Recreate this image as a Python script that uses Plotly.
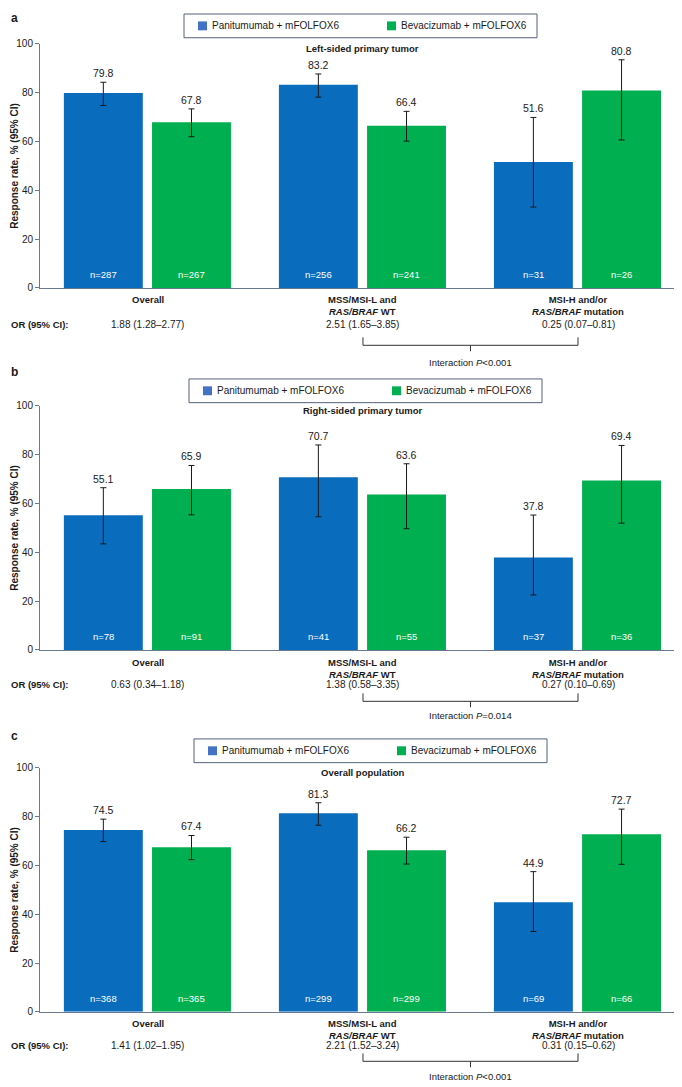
import plotly.graph_objects as go

W, H = 682, 1087
FONT = "Liberation Sans, Arial, sans-serif"

# ---------------- data ----------------
category_labels = [
    "<b>Overall</b>",
    "<b>MSS/MSI-L and</b><br><b><i>RAS/BRAF</i> WT</b>",
    "<b>MSI-H and/or</b><br><b><i>RAS/BRAF</i> mutation</b>",
]
series_names = ["Panitumumab + mFOLFOX6", "Bevacizumab + mFOLFOX6"]
panel_letters = ["a", "b", "c"]
panel_titles = ["Left-sided primary tumor", "Right-sided primary tumor", "Overall population"]

# Panel a: left-sided
a_pan = [79.8, 83.2, 51.6]
a_pan_lo = [74.7, 78.1, 33.1]
a_pan_hi = [84.2, 87.6, 69.8]
a_pan_n = [287, 256, 31]
a_bev = [67.8, 66.4, 80.8]
a_bev_lo = [61.9, 60.1, 60.6]
a_bev_hi = [73.3, 72.3, 93.4]
a_bev_n = [267, 241, 26]
a_or = ["1.88 (1.28–2.77)", "2.51 (1.65–3.85)", "0.25 (0.07–0.81)"]
a_p = "<i>P</i>&lt;0.001"

# Panel b: right-sided
b_pan = [55.1, 70.7, 37.8]
b_pan_lo = [43.4, 54.5, 22.5]
b_pan_hi = [66.4, 83.9, 55.2]
b_pan_n = [78, 41, 37]
b_bev = [65.9, 63.6, 69.4]
b_bev_lo = [55.3, 49.6, 51.9]
b_bev_hi = [75.5, 76.2, 83.7]
b_bev_n = [91, 55, 36]
b_or = ["0.63 (0.34–1.18)", "1.38 (0.58–3.35)", "0.27 (0.10–0.69)"]
b_p = "<i>P</i>=0.014"

# Panel c: overall population
c_pan = [74.5, 81.3, 44.9]
c_pan_lo = [69.7, 76.4, 32.9]
c_pan_hi = [78.9, 85.6, 57.4]
c_pan_n = [368, 299, 69]
c_bev = [67.4, 66.2, 72.7]
c_bev_lo = [62.3, 60.5, 60.4]
c_bev_hi = [72.2, 71.5, 83.0]
c_bev_n = [365, 299, 66]
c_or = ["1.41 (1.02–1.95)", "2.21 (1.52–3.24)", "0.31 (0.15–0.62)"]
c_p = "<i>P</i>&lt;0.001"

y_ticks = [0, 20, 40, 60, 80, 100]

panels = [
    dict(pan=a_pan, pan_lo=a_pan_lo, pan_hi=a_pan_hi, pan_n=a_pan_n,
         bev=a_bev, bev_lo=a_bev_lo, bev_hi=a_bev_hi, bev_n=a_bev_n, orv=a_or, p=a_p),
    dict(pan=b_pan, pan_lo=b_pan_lo, pan_hi=b_pan_hi, pan_n=b_pan_n,
         bev=b_bev, bev_lo=b_bev_lo, bev_hi=b_bev_hi, bev_n=b_bev_n, orv=b_or, p=b_p),
    dict(pan=c_pan, pan_lo=c_pan_lo, pan_hi=c_pan_hi, pan_n=c_pan_n,
         bev=c_bev, bev_lo=c_bev_lo, bev_hi=c_bev_hi, bev_n=c_bev_n, orv=c_or, p=c_p),
]

# ---------------- layout geometry (page pixels) ----------------
geo = [
    dict(top=38, zero=285, leg_top=8, leg_left=184, sub_y=43, letter_y=12,
         line1=10, orr=37, br_top=50, br_h=58, br_tick=64, ptxt=75),
    dict(top=404, zero=651, leg_top=377, leg_left=189, sub_y=409, letter_y=370,
         line1=11, orr=35, br_top=44, br_h=52, br_tick=58, ptxt=66),
    dict(top=770, zero=1017, leg_top=741, leg_left=194, sub_y=775, letter_y=738,
         line1=10, orr=34, br_top=42, br_h=50, br_tick=56, ptxt=65),
]
X_LEFT, X_RIGHT = 40, 678
X_RANGE = [-0.502, 2.465]
BAR_W = 0.367
OFF_PAN = -0.391
OFF_BEV = 0.019

BLUE = "#0a6cbd"
GREEN = "#00b050"
LEG_BLUE = "#4472c4"
AXIS_COL = "#6a7890"
TXT = "#1a1a1a"
ERR = "#1a1a1a"

PAGE_OFF = 8  # the page body margin in front of the figure


def px(x):
    return (x - PAGE_OFF) / W


def py(y):
    return 1 - (y - PAGE_OFF) / H


fig = go.Figure()
annotations = []
shapes = []
xs = list(range(len(category_labels)))

for i, (d, g) in enumerate(zip(panels, geo)):
    sfx = "" if i == 0 else str(i + 1)
    xa, ya = "x" + sfx, "y" + sfx
    for vals, lo, hi, ns, col, off, name in [
        (d["pan"], d["pan_lo"], d["pan_hi"], d["pan_n"], BLUE, OFF_PAN, series_names[0]),
        (d["bev"], d["bev_lo"], d["bev_hi"], d["bev_n"], GREEN, OFF_BEV, series_names[1]),
    ]:
        fig.add_trace(go.Bar(
            x=xs, y=vals, width=BAR_W, offset=off, marker=dict(color=col, line=dict(width=0)),
            name=name, showlegend=False, xaxis=xa, yaxis=ya,
            error_y=dict(type="data", symmetric=False,
                         array=[h - v for h, v in zip(hi, vals)],
                         arrayminus=[v - l for v, l in zip(vals, lo)],
                         color=ERR, thickness=1, width=3),
            hoverinfo="skip",
        ))
        for k in xs:
            cx = k + off + BAR_W / 2
            annotations.append(dict(x=cx, y=hi[k], xref=xa, yref=ya, text=f"{vals[k]:.1f}",
                                    showarrow=False, yanchor="bottom", yshift=1,
                                    font=dict(size=10.5, color=TXT, family=FONT)))
            annotations.append(dict(x=cx, y=0, xref=xa, yref=ya, text=f"n={ns[k]}",
                                    showarrow=False, yanchor="middle", yshift=13,
                                    font=dict(size=9.5, color="white", family=FONT)))

    ydom = [py(g["zero"]), py(g["top"])]
    fig.update_layout(**{
        ("xaxis" + sfx): dict(domain=[px(X_LEFT), px(X_RIGHT)], range=X_RANGE, anchor=ya,
                              showticklabels=False, ticks="", showgrid=False, zeroline=False,
                              showline=True, linecolor=AXIS_COL, linewidth=1.3, fixedrange=True),
        ("yaxis" + sfx): dict(domain=ydom, range=[0, 100], anchor=xa, tickvals=y_ticks,
                              ticks="outside", ticklen=4, tickcolor=AXIS_COL, tickwidth=1,
                              showgrid=False, zeroline=False, showline=True, linecolor=AXIS_COL,
                              linewidth=1, tickfont=dict(size=10, color=TXT, family=FONT),
                              fixedrange=True),
    })

    z = g["zero"]
    for k in xs:
        annotations.append(dict(x=k, y=py(z + g["line1"] - 6), xref=xa, yref="paper",
                                text=category_labels[k], showarrow=False, yanchor="top",
                                align="center",
                                font=dict(size=9.5, color=TXT, family=FONT)))
        annotations.append(dict(x=k, y=py(z + g["orr"]), xref=xa, yref="paper",
                                text=d["orv"][k], showarrow=False, yanchor="middle",
                                font=dict(size=10, color=TXT, family=FONT)))
    annotations.append(dict(x=px(9), y=py(z + g["orr"]), xref="paper", yref="paper",
                            text="<b>OR (95% CI):</b>", showarrow=False, xanchor="left",
                            yanchor="middle", font=dict(size=9.5, color=TXT, family=FONT)))
    shapes.append(dict(type="path", xref=xa, yref="paper",
                       path=f"M 1,{py(z + g['br_top'])} L 1,{py(z + g['br_h'])} "
                            f"L 2,{py(z + g['br_h'])} L 2,{py(z + g['br_top'])}",
                       line=dict(color="#333333", width=1)))
    shapes.append(dict(type="line", xref=xa, yref="paper", x0=1.5, x1=1.5,
                       y0=py(z + g["br_h"]), y1=py(z + g["br_tick"]),
                       line=dict(color="#333333", width=1)))
    annotations.append(dict(x=1.5, y=py(z + g["ptxt"]), xref=xa, yref="paper",
                            text="Interaction " + d["p"], showarrow=False, yanchor="middle",
                            font=dict(size=9.5, color=TXT, family=FONT)))

    annotations.append(dict(x=px(15), y=py((g["top"] + z) / 2), xref="paper", yref="paper",
                            text="<b>Response rate, % (95% CI)</b>", textangle=-90,
                            showarrow=False, xanchor="center", yanchor="middle",
                            font=dict(size=10, color=TXT, family=FONT)))
    annotations.append(dict(x=px(9), y=py(g["letter_y"]), xref="paper", yref="paper",
                            text=f"<b>{panel_letters[i]}</b>", showarrow=False, xanchor="left",
                            yanchor="middle", font=dict(size=12, color=TXT, family=FONT)))
    annotations.append(dict(x=1, y=py(g["sub_y"]), xref=xa, yref="paper",
                            text=f"<b>{panel_titles[i]}</b>", showarrow=False,
                            yanchor="middle", font=dict(size=9.5, color=TXT, family=FONT)))

    L, T = g["leg_left"], g["leg_top"]
    shapes.append(dict(type="rect", xref="paper", yref="paper", x0=px(L), x1=px(L + 353),
                       y0=py(T + 24), y1=py(T), line=dict(color="#55627a", width=1),
                       fillcolor="white"))
    for sx, col, name in [(L + 14, LEG_BLUE, series_names[0]), (L + 203, GREEN, series_names[1])]:
        shapes.append(dict(type="rect", xref="paper", yref="paper", x0=px(sx), x1=px(sx + 9),
                           y0=py(T + 16.5), y1=py(T + 7.5), line=dict(width=0), fillcolor=col))
        annotations.append(dict(x=px(sx + 12), y=py(T + 12), xref="paper", yref="paper",
                                text=name, showarrow=False, xanchor="left", yanchor="middle",
                                font=dict(size=10, color=TXT, family=FONT)))

fig.update_layout(
    width=W, height=H, margin=dict(l=0, r=0, t=0, b=0),
    paper_bgcolor="white", plot_bgcolor="white", barmode="overlay",
    showlegend=False, annotations=annotations, shapes=shapes,
    font=dict(family=FONT, color=TXT),
)

fig.write_html("out.html")
